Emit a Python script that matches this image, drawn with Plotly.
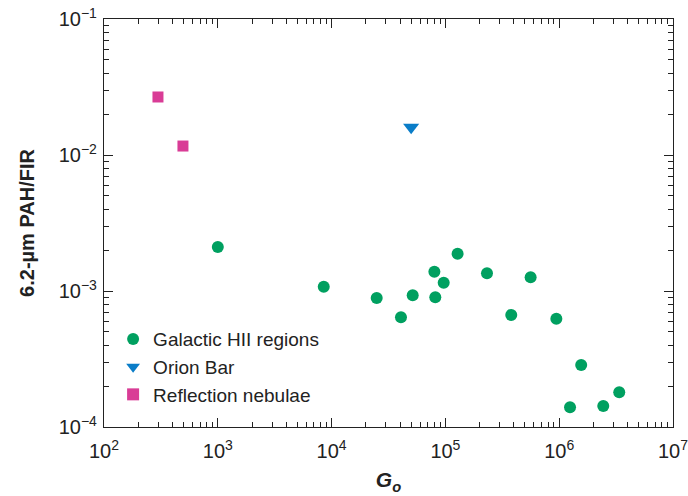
import plotly.graph_objects as go

# Data
hii_x = [1000, 8530, 24900, 40700, 51600, 80000, 81500, 96600, 128000, 232000,
         379000, 561000, 944000, 1.56e6, 1.245e6, 2.44e6, 3.37e6]
hii_y = [0.00211, 0.001076, 0.000889, 0.000641, 0.000929, 0.001386, 0.0009, 0.00115,
         0.00188, 0.00135, 0.000667, 0.00126, 0.000625, 0.000286, 0.0001396, 0.0001426, 0.00018]
orion_x = [5.0e4]
orion_y = [0.0160]
refl_x = [298, 494]
refl_y = [0.0267, 0.01164]

x_tickvals = [1e2, 1e3, 1e4, 1e5, 1e6, 1e7]
x_ticktext = ["10<sup>2</sup>", "10<sup>3</sup>", "10<sup>4</sup>", "10<sup>5</sup>", "10<sup>6</sup>", "10<sup>7</sup>"]
y_tickvals = [1e-4, 1e-3, 1e-2, 1e-1]
y_ticktext = ["10<sup>−4</sup>", "10<sup>−3</sup>", "10<sup>−2</sup>", "10<sup>−1</sup>"]

x_minor = [m * 10 ** e for e in range(2, 7) for m in range(2, 10)]
y_minor = [m * 10.0 ** e for e in range(-4, -1) for m in range(2, 10)]

FONT = "Liberation Sans, Arial, sans-serif"

fig = go.Figure()
fig.add_trace(go.Scatter(x=hii_x, y=hii_y, mode="markers", name="Galactic HII regions",
                         marker=dict(symbol="circle", size=12, color="#00A060")))
fig.add_trace(go.Scatter(x=orion_x, y=orion_y, mode="markers", name="Orion Bar",
                         marker=dict(symbol="triangle-down", size=14, color="#0A7DC8")))
fig.add_trace(go.Scatter(x=refl_x, y=refl_y, mode="markers", name="Reflection nebulae",
                         marker=dict(symbol="square", size=11, color="#D93C96")))

axis_common = dict(showline=True, linecolor="#222", linewidth=1.2, mirror="ticks",
                   ticks="inside", ticklen=9, tickwidth=1.2, tickcolor="#222",
                   showgrid=False, zeroline=False, automargin=False,
                   ticklabeloverflow="allow",
                   tickfont=dict(family=FONT, size=20, color="#222"))

fig.update_xaxes(type="log", range=[2, 7], tickmode="array", tickvals=x_tickvals,
                 ticktext=x_ticktext, ticklabelstandoff=6,
                 minor=dict(ticks="inside", ticklen=5, tickwidth=1, tickcolor="#222",
                            tickmode="array", tickvals=x_minor, showgrid=False),
                 title=dict(text="<b><i>G</i></b><sub><b><i>o</i></b></sub>",
                            font=dict(family=FONT, size=21, color="#222"), standoff=11),
                 **axis_common)
fig.update_yaxes(type="log", range=[-4, -1], tickmode="array", tickvals=y_tickvals,
                 ticktext=y_ticktext, ticklabelstandoff=2,
                 minor=dict(ticks="inside", ticklen=5, tickwidth=1, tickcolor="#222",
                            tickmode="array", tickvals=y_minor, showgrid=False),
                 title=dict(text="<b>6.2-µm PAH/FIR</b>",
                            font=dict(family=FONT, size=20, color="#222"), standoff=18),
                 **axis_common)

fig.update_layout(
    width=688, height=496,
    margin=dict(l=104, r=15, t=19, b=69),
    paper_bgcolor="white", plot_bgcolor="white",
    font=dict(family=FONT, color="#222"),
    legend=dict(x=0.016, y=0.262, xanchor="left", yanchor="top",
                bgcolor="rgba(0,0,0,0)", borderwidth=0,
                font=dict(family=FONT, size=19, color="#222"),
                itemsizing="constant", tracegroupgap=0, itemwidth=30),
    showlegend=True,
)

fig.write_html("out.html")
